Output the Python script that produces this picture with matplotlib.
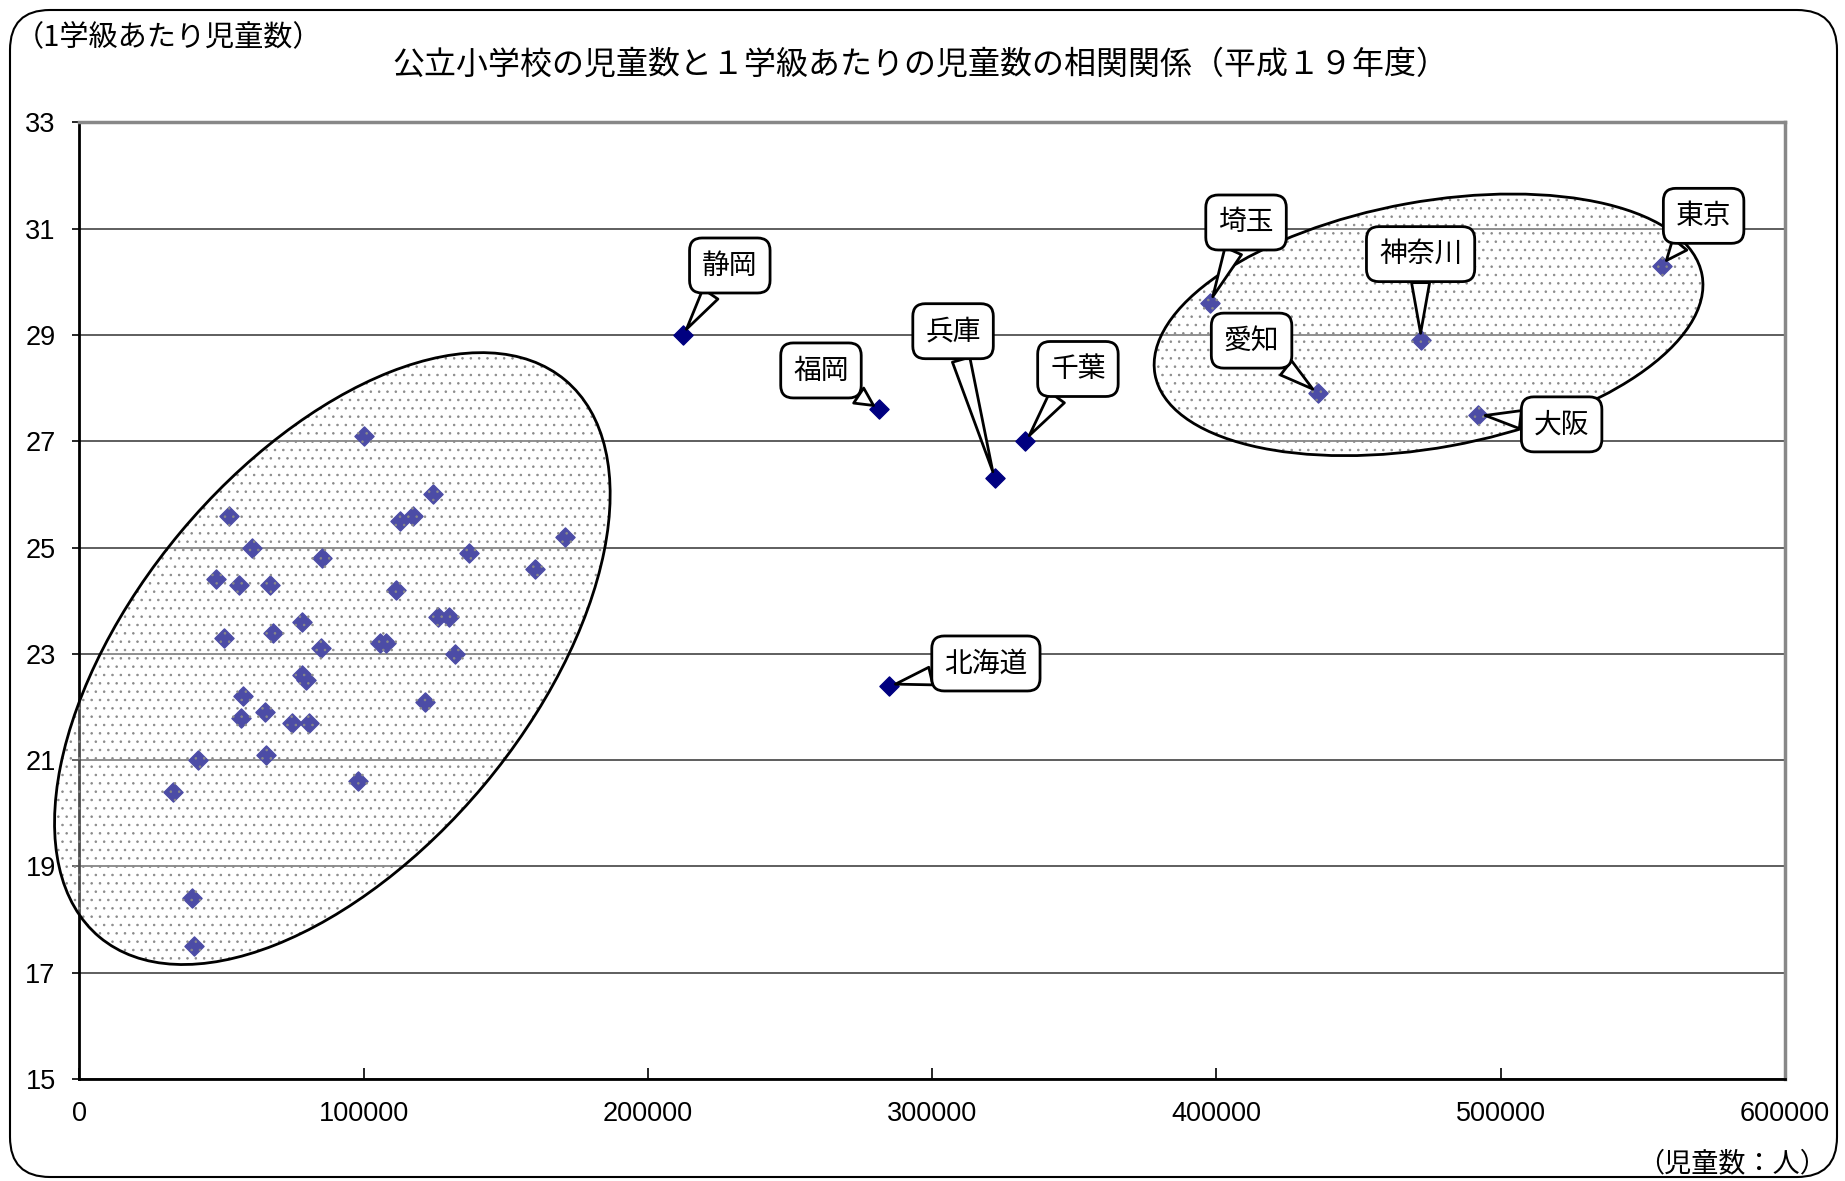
import matplotlib.pyplot as plt
from matplotlib.patches import Ellipse, FancyBboxPatch
from matplotlib.transforms import ScaledTranslation
from matplotlib.ticker import FuncFormatter

plt.rcParams['font.family'] = ['Noto Sans CJK JP', 'DejaVu Sans']
plt.rcParams['hatch.linewidth'] = 0.6

# prefectures without a callout: pupils, pupils per class
other_pupils = [100300, 124500, 52700, 112900, 117500, 170700, 60700, 136900, 85500,
                160400, 48000, 56300, 67000, 111300, 126000, 130100, 78500, 50800,
                68000, 105600, 107800, 85000, 132200, 78500, 79800, 57700, 121500,
                56700, 65400, 74900, 80700, 41900, 65500, 33100, 97900, 39600, 40200]
other_class = [27.1, 26.0, 25.6, 25.5, 25.6, 25.2, 25.0, 24.9, 24.8,
               24.6, 24.4, 24.3, 24.3, 24.2, 23.7, 23.7, 23.6, 23.3,
               23.4, 23.2, 23.2, 23.1, 23.0, 22.6, 22.5, 22.2, 22.1,
               21.8, 21.9, 21.7, 21.7, 21.0, 21.1, 20.4, 20.6, 18.4, 17.5]

# prefectures with a callout
named = ['静岡', '福岡', '兵庫', '千葉', '北海道', '埼玉', '神奈川', '愛知', '大阪', '東京']
named_pupils = [212200, 281400, 322000, 332700, 284700, 397700, 471800, 435800, 492100, 556700]
named_class = [29.0, 27.6, 26.3, 27.0, 22.4, 29.6, 28.9, 27.9, 27.5, 30.3]

# callout box offsets (points) from each marker
label_dx = [34, -42, -30, 38, 70, 26, 0, -48, 60, 30]
label_dy = [50, 28, 106, 52, 16, 58, 62, 38, -7, 36]

fig = plt.figure(figsize=(18.45, 11.81), dpi=100)
ax = fig.add_axes([0.043, 0.0864, 0.9245, 0.81])

ax.set_xlim(0, 600000)
ax.set_ylim(15, 33)
ax.set_yticks(range(15, 34, 2))
ax.set_xticks(range(0, 600001, 100000))
ax.xaxis.set_major_formatter(FuncFormatter(lambda v, p: f'{v:.0f}'))
ax.grid(axis='y', color='#333333', lw=1.1)
ax.set_axisbelow(True)
for s in ['left', 'bottom']:
    ax.spines[s].set_color('black')
    ax.spines[s].set_linewidth(2)
for s in ['top', 'right']:
    ax.spines[s].set_color('#888888')
    ax.spines[s].set_linewidth(2.5)
ax.tick_params(axis='x', direction='in', length=8, width=1.2, pad=16, labelsize=19.5)
ax.tick_params(axis='y', direction='out', length=5, width=1.2, pad=12, labelsize=19.5)
for lab in ax.get_xticklabels() + ax.get_yticklabels():
    lab.set_family('Liberation Sans')

ax.scatter(other_pupils, other_class, marker='D', s=95, color='#000080', zorder=3)
ax.scatter(named_pupils, named_class, marker='D', s=95, color='#000080', zorder=3)


def group_ellipse(cx, cy, w, h, ang):
    # size in inches, centre in data units
    tr = fig.dpi_scale_trans + ScaledTranslation(cx, cy, ax.transData)
    ax.add_patch(Ellipse((0, 0), w, h, angle=ang, transform=tr, clip_on=False,
                         fc=(1, 1, 1, 0.3), ec='none', zorder=4))
    ax.add_patch(Ellipse((0, 0), w, h, angle=ang, transform=tr, clip_on=False,
                         fc='none', ec='#8a8a8a', lw=0, hatch='..', zorder=4))
    ax.add_patch(Ellipse((0, 0), w, h, angle=ang, transform=tr, clip_on=False,
                         fc='none', ec='black', lw=2, zorder=5))


group_ellipse(89000, 22.91, 7.26, 3.95, 50.1)
group_ellipse(474600, 29.19, 5.56, 2.46, 10.3)

for name, x, y, dx, dy in zip(named, named_pupils, named_class, label_dx, label_dy):
    ax.annotate(name, xy=(x, y), xytext=(dx, dy), textcoords='offset points',
                ha='center', va='center', fontsize=20, zorder=6,
                bbox=dict(boxstyle='round,pad=0.45,rounding_size=0.45',
                          fc='white', ec='black', lw=2),
                arrowprops=dict(arrowstyle='wedge,tail_width=0.65', fc='white',
                                ec='black', lw=2, shrinkA=0, shrinkB=5))

fig.text(0.499, 0.945, '公立小学校の児童数と１学級あたりの児童数の相関関係（平成１９年度）',
         ha='center', va='center', fontsize=23)
fig.text(0.008, 0.968, '（1学級あたり児童数）', ha='left', va='center', fontsize=21)
fig.text(0.99, 0.0145, '（児童数：人）', ha='right', va='center', fontsize=19.5)

frame = FancyBboxPatch((0.1, 0.04), 18.27, 11.67,
                       boxstyle='round,pad=0,rounding_size=0.4',
                       transform=fig.dpi_scale_trans, fc='none', ec='black', lw=1.5)
fig.patches.append(frame)

fig.savefig('out.png', dpi=100)
